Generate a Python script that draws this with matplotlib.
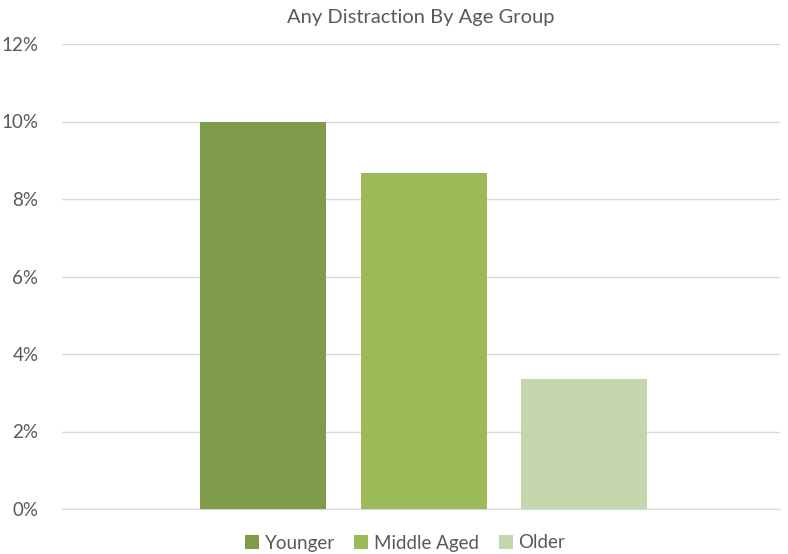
import matplotlib
matplotlib.use("Agg")
import matplotlib.pyplot as plt
from matplotlib.ticker import FuncFormatter, MultipleLocator

plt.rcParams['font.family'] = ['Lato', 'DejaVu Sans']

series_names = ["Younger", "Middle Aged", "Older"]
values = [10.0, 8.68, 3.35]
colors = ["#7F9C4A", "#9BBB59", "#C6D6AC"]
title = "Any Distraction By Age Group"

fig = plt.figure(figsize=(7.88, 5.54), dpi=100)
ax = fig.add_axes([62/788, 1-509/554, 718/788, (509-44)/554])

width = 0.1755
step = 0.2235
for i, (name, v, c) in enumerate(zip(series_names, values, colors)):
    ax.bar((i - 1) * step + 0.0035, v, width=width, color=c, label=name, zorder=3)

ax.set_xlim(-0.5, 0.5)
ax.set_ylim(0, 12)
ax.yaxis.set_major_locator(MultipleLocator(2))
ax.yaxis.set_major_formatter(FuncFormatter(lambda y, p: f"{y:.0f}%"))
ax.set_xticks([])
ax.grid(axis='y', color='#D9D9D9', linewidth=1, zorder=0)
for s in ['top', 'right', 'left']:
    ax.spines[s].set_visible(False)
ax.spines['bottom'].set_color('#D9D9D9')
ax.tick_params(axis='y', length=0, labelsize=13.5, labelcolor='#595959', pad=17)

fig.text(421/788, 1-17/554, title, ha='center', va='center', fontsize=14.5, color='#595959')

leg = fig.legend(loc='center', bbox_to_anchor=(405/788, 1-543/554), ncol=3, frameon=False,
                 fontsize=13.5, handlelength=0.75, handleheight=0.75, handletextpad=0.3,
                 columnspacing=1.05, labelcolor='#595959')

fig.savefig("out.png", dpi=100)
